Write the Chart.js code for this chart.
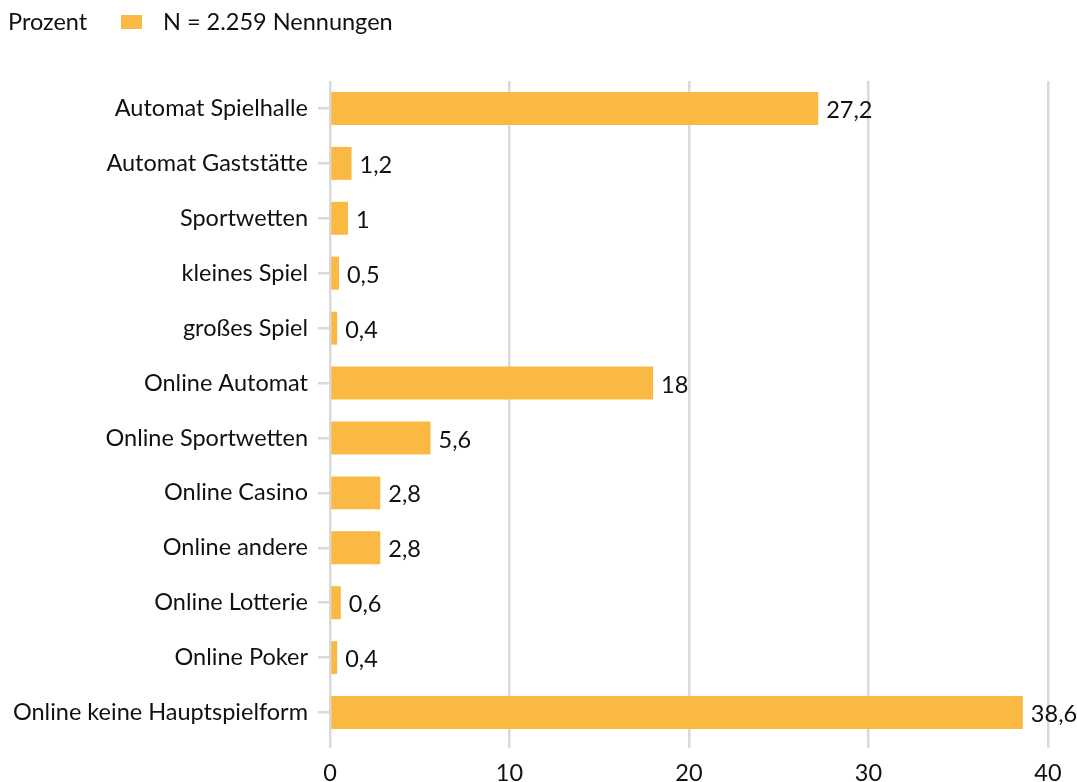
<!DOCTYPE html>
<html>
<head>
<meta charset="utf-8">
<script src="https://cdn.jsdelivr.net/npm/chart.js@4/dist/chart.umd.min.js"></script>
<style>
  html, body { margin: 0; padding: 0; background: #fff; }
  #wrap { width: 1077px; height: 782px; position: relative; }
</style>
</head>
<body>
<div id="wrap"><canvas id="chart"></canvas></div>
<script>
const categories = [
  'Automat Spielhalle', 'Automat Gaststätte', 'Sportwetten', 'kleines Spiel',
  'großes Spiel', 'Online Automat', 'Online Sportwetten', 'Online Casino',
  'Online andere', 'Online Lotterie', 'Online Poker', 'Online keine Hauptspielform'
];
const values = [27.2, 1.2, 1, 0.5, 0.4, 18, 5.6, 2.8, 2.8, 0.6, 0.4, 38.6];
const seriesLabel = 'N = 2.259 Nennungen';
const unitLabel = 'Prozent';
const xTicks = [0, 10, 20, 30, 40];

const FONT = 'Lato, "Open Sans", sans-serif';
const FSIZE = 23.5;
const barColor = '#f9b943';
const gridColor = '#d9d9d9';
const textColor = '#111';

// legend line at the top ("Prozent" + swatch + series label)
const topLegend = {
  id: 'topLegend',
  afterDraw(chart) {
    const ctx = chart.ctx;
    ctx.save();
    ctx.font = FSIZE + 'px ' + FONT;
    ctx.fillStyle = textColor;
    ctx.textBaseline = 'middle';
    ctx.textAlign = 'left';
    ctx.fillText(unitLabel, 8, 22);
    ctx.fillStyle = chart.data.datasets[0].backgroundColor;
    ctx.fillRect(121, 15, 21, 14);
    ctx.fillStyle = textColor;
    ctx.fillText(chart.data.datasets[0].label, 163, 22);
    ctx.restore();
  }
};

// value labels at the end of each bar
const valueLabels = {
  id: 'valueLabels',
  afterDatasetsDraw(chart) {
    const ctx = chart.ctx;
    const meta = chart.getDatasetMeta(0);
    ctx.save();
    ctx.font = FSIZE + 'px ' + FONT;
    ctx.fillStyle = textColor;
    ctx.textBaseline = 'middle';
    ctx.textAlign = 'left';
    meta.data.forEach((bar, i) => {
      const txt = String(values[i]).replace('.', ',');
      ctx.fillText(txt, bar.x + 8, bar.y + 2);
    });
    ctx.restore();
  }
};

new Chart(document.getElementById('chart'), {
  type: 'bar',
  data: {
    labels: categories,
    datasets: [{
      label: seriesLabel,
      data: values,
      backgroundColor: barColor,
      barPercentage: 0.6,
      categoryPercentage: 1.0
    }]
  },
  options: {
    indexAxis: 'y',
    responsive: true,
    maintainAspectRatio: false,
    animation: false,
    layout: { padding: { top: 81, left: 10, right: 29, bottom: 0 } },
    plugins: {
      legend: { display: false },
      tooltip: { enabled: false }
    },
    scales: {
      x: {
        min: 0,
        max: 40,
        afterBuildTicks(scale) {
          scale.ticks = xTicks.map(v => ({ value: v }));
        },
        afterFit(scale) { scale.height = 42; },
        grid: { color: gridColor, lineWidth: 2.5, tickLength: 8 },
        border: { display: false },
        ticks: { color: textColor, font: { family: FONT, size: FSIZE }, padding: 11 }
      },
      y: {
        afterFit(scale) { scale.width = 320; },
        grid: { offset: false, drawOnChartArea: false, color: gridColor, lineWidth: 2.5, tickLength: 12 },
        border: { display: false },
        ticks: { color: textColor, font: { family: FONT, size: FSIZE }, padding: 10 }
      }
    }
  },
  plugins: [topLegend, valueLabels]
});
</script>
</body>
</html>
